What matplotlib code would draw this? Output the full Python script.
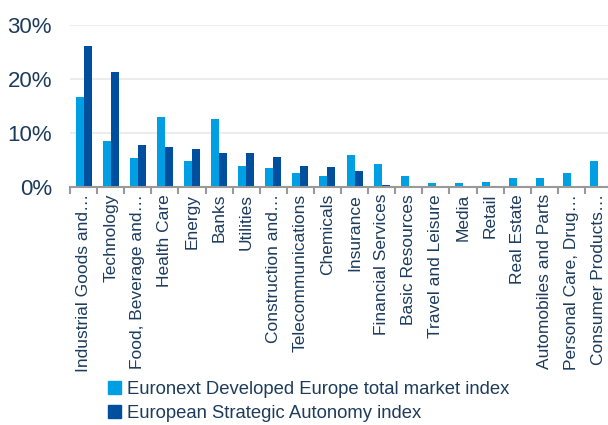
import matplotlib.pyplot as plt
import numpy as np
from matplotlib.patches import Patch

plt.rcParams['font.family'] = ['Liberation Sans', 'DejaVu Sans']

sectors = ["Industrial Goods and\u2026", "Technology", "Food, Beverage and\u2026",
           "Health Care", "Energy", "Banks", "Utilities", "Construction and\u2026",
           "Telecommunications", "Chemicals", "Insurance", "Financial Services",
           "Basic Resources", "Travel and Leisure", "Media", "Retail", "Real Estate",
           "Automobiles and Parts", "Personal Care, Drug\u2026", "Consumer Products\u2026"]
euronext = [16.7, 8.6, 5.3, 12.9, 4.9, 12.5, 3.9, 3.5, 2.65, 2.0,
            5.9, 4.3, 2.0, 0.7, 0.7, 1.0, 1.6, 1.7, 2.5, 4.9]
autonomy = [26.1, 21.3, 7.7, 7.5, 7.0, 6.3, 6.3, 5.6, 3.8, 3.7,
            3.0, 0.3, 0.1, 0.05, 0.0, 0.0, 0.0, 0.0, 0.0, 0.0]
yticks = [0, 10, 20, 30]

light = '#009fe3'
dark = '#004f9f'
txt = '#1d3c5c'

fig = plt.figure(figsize=(6.08, 4.25), dpi=100)
ax = fig.add_axes([70/608, 238/425, 542/608, 162/425])

x = np.arange(len(sectors))
w = 0.295
ax.bar(x - w/2, euronext, w, color=light, zorder=3)
ax.bar(x + w/2, autonomy, w, color=dark, zorder=3)

ax.set_xlim(-0.5, len(sectors) - 0.5)
ax.set_ylim(0, 30)
ax.set_yticks(yticks)
ax.set_yticklabels([f"{v}%" for v in yticks])
ax.yaxis.grid(True, color='#ececec', linewidth=1.5, zorder=0)
ax.tick_params(axis='y', length=0, labelsize=16, labelcolor=txt, pad=13)

ax.set_xticks(x)
ax.set_xticklabels(sectors, rotation=90, fontsize=12.5, color=txt)
ax.tick_params(axis='x', which='major', length=0, pad=5)
ax.set_xticks(np.arange(-0.5, len(sectors) + 0.5, 1), minor=True)
ax.tick_params(axis='x', which='minor', length=5, width=1.5, color='#999999')

for s in ['top', 'right', 'left']:
    ax.spines[s].set_visible(False)
ax.spines['bottom'].set_color('#999999')
ax.spines['bottom'].set_linewidth(1.5)
ax.spines['bottom'].set_zorder(4)

handles = [Patch(color=light, label='Euronext Developed Europe total market index'),
           Patch(color=dark, label='European Strategic Autonomy index')]
fig.legend(handles=handles, loc='upper left', bbox_to_anchor=(101/608, 1 - 374/425),
           frameon=False, fontsize=13.3, labelcolor=txt, handlelength=0.7,
           handleheight=0.7, handletextpad=0.3, labelspacing=0.35, borderaxespad=0)

fig.savefig('out.png', dpi=100)
